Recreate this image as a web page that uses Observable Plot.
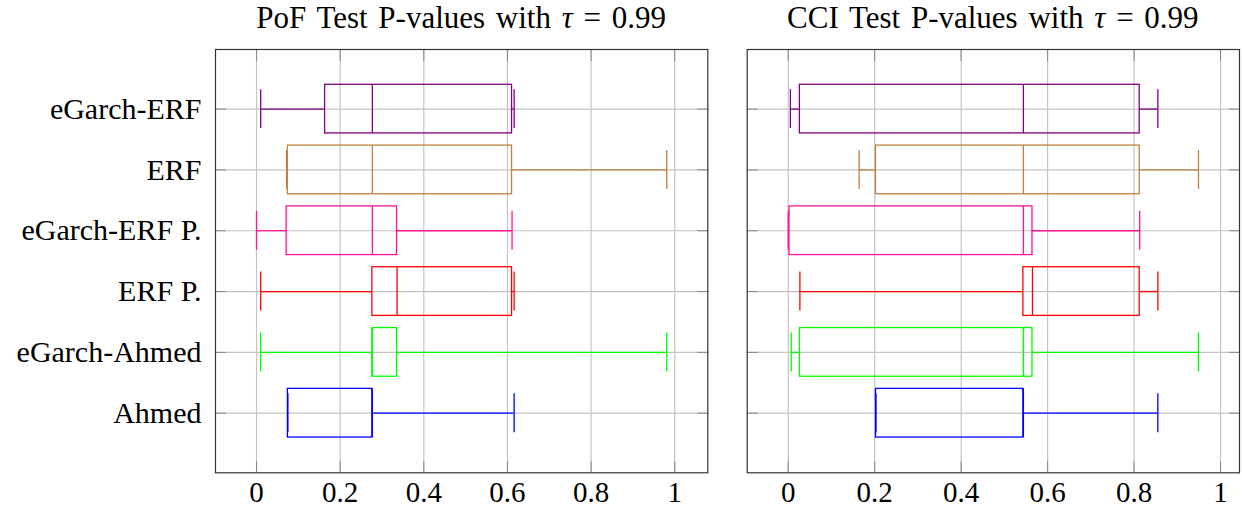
<!DOCTYPE html>
<html>
<head>
<meta charset="utf-8">
<script src="https://cdn.jsdelivr.net/npm/d3@7"></script>
<script src="https://cdn.jsdelivr.net/npm/@observablehq/plot@0.6"></script>
<style>
  html, body { margin: 0; padding: 0; background: #fff; }
  #wrap { position: relative; width: 1242px; height: 512px; overflow: hidden; font-family: "Liberation Serif", serif; }
  .panel { position: absolute; top: 0; }
  .panel svg text { font-family: "Liberation Serif", serif; }
  .title { position: absolute; top: 2px; font-size: 31px; line-height: 1; word-spacing: 3px; white-space: nowrap; transform: translateX(-50%); color: #000; }
  .title i { font-style: italic; }
</style>
</head>
<body>
<div id="wrap"></div>
<script>
// Categories, bottom (row 1) to top (row 6)
const categories = ["Ahmed", "eGarch-Ahmed", "ERF P.", "eGarch-ERF P.", "ERF", "eGarch-ERF"];
const seriesColors = ["#0000ff", "#00ff00", "#ff0000", "#ff1493", "#bf8040", "#800080"];
const xTicks = [0, 0.2, 0.4, 0.6, 0.8, 1];

// PoF test p-values (box statistics)
const pofLower  = [0.075, 0.010, 0.010, 0.000, 0.072, 0.010];
const pofQ1     = [0.075, 0.277, 0.277, 0.072, 0.075, 0.164];
const pofMedian = [0.277, 0.277, 0.336, 0.277, 0.277, 0.277];
const pofQ3     = [0.277, 0.336, 0.611, 0.336, 0.611, 0.611];
const pofUpper  = [0.616, 0.981, 0.616, 0.611, 0.981, 0.616];

// CCI test p-values (box statistics)
const cciLower  = [0.203, 0.007, 0.027, 0.000, 0.164, 0.005];
const cciQ1     = [0.203, 0.027, 0.544, 0.003, 0.203, 0.027];
const cciMedian = [0.544, 0.544, 0.565, 0.544, 0.544, 0.544];
const cciQ3     = [0.544, 0.565, 0.813, 0.565, 0.813, 0.813];
const cciUpper  = [0.855, 0.949, 0.855, 0.813, 0.949, 0.855];

const titles = ["PoF Test P-values with ", "CCI Test P-values with "];
const tauText = "τ";
const tauValue = " = 0.99";

function rowsOf(lw, q1, med, q3, uw) {
  return categories.map((c, i) => ({cat: c, row: i + 1, color: seriesColors[i], lw: lw[i], q1: q1[i], med: med[i], q3: q3[i], uw: uw[i]}));
}

function panel(data, opts) {
  const all = data.flatMap(d => [d.lw, d.uw]);
  const [lo, hi] = d3.extent(all);
  const pad = 0.1 * (hi - lo);
  const rows = data.map(d => d.row);
  const boxHalf = 0.4, capHalf = 0.32;
  const sw = 1.3;
  return Plot.plot({
    width: opts.width,
    height: 512,
    marginLeft: opts.marginLeft,
    marginRight: opts.marginRight,
    marginTop: 49,
    marginBottom: 39.7,
    style: {fontFamily: "'Liberation Serif', serif", fontSize: "29px", color: "#000", background: "transparent"},
    x: {domain: [lo - pad, hi + pad], label: null},
    y: {domain: [0.02, 6.98], label: null},
    marks: [
      Plot.gridX(xTicks, {stroke: "#c4c4c4", strokeOpacity: 1, strokeWidth: 1.2}),
      Plot.gridY(rows, {stroke: "#c4c4c4", strokeOpacity: 1, strokeWidth: 1.2}),
      Plot.axisX(xTicks, {anchor: "bottom", tickSize: -11, tickPadding: 20, stroke: "#888", fill: "#000", fontSize: 29, label: null, tickFormat: d => String(d)}),
      Plot.axisX(xTicks, {anchor: "top", tickSize: -11, stroke: "#888", fill: "none", label: null}),
      Plot.axisY(rows, {anchor: "left", tickSize: -11, tickPadding: 25, stroke: "#888", fill: opts.showLabels ? "#000" : "none", fontSize: 30, label: null, tickFormat: r => categories[r - 1]}),
      Plot.axisY(rows, {anchor: "right", tickSize: -11, stroke: "#888", fill: "none", label: null}),
      Plot.ruleY(data, {y: "row", x1: "lw", x2: "q1", stroke: "color", strokeWidth: sw}),
      Plot.ruleY(data, {y: "row", x1: "q3", x2: "uw", stroke: "color", strokeWidth: sw}),
      Plot.ruleX(data, {x: "lw", y1: d => d.row - capHalf, y2: d => d.row + capHalf, stroke: "color", strokeWidth: sw}),
      Plot.ruleX(data, {x: "uw", y1: d => d.row - capHalf, y2: d => d.row + capHalf, stroke: "color", strokeWidth: sw}),
      Plot.rect(data, {x1: "q1", x2: "q3", y1: d => d.row - boxHalf, y2: d => d.row + boxHalf, fill: "none", stroke: "color", strokeWidth: sw}),
      Plot.ruleX(data, {x: "med", y1: d => d.row - boxHalf, y2: d => d.row + boxHalf, stroke: "color", strokeWidth: sw}),
      Plot.frame({stroke: "#333", strokeWidth: 1.2})
    ]
  });
}

const wrap = document.getElementById("wrap");
const specs = [
  {data: rowsOf(pofLower, pofQ1, pofMedian, pofQ3, pofUpper), left: 0, width: 720, marginLeft: 215, marginRight: 12.7, showLabels: true},
  {data: rowsOf(cciLower, cciQ1, cciMedian, cciQ3, cciUpper), left: 720, width: 522, marginLeft: 26.7, marginRight: 3, showLabels: false}
];
specs.forEach((s, k) => {
  const div = document.createElement("div");
  div.className = "panel";
  div.style.left = s.left + "px";
  div.appendChild(panel(s.data, s));
  wrap.appendChild(div);
  const t = document.createElement("div");
  t.className = "title";
  const cx = s.left + s.marginLeft + (s.width - s.marginLeft - s.marginRight) / 2;
  t.style.left = cx + "px";
  t.appendChild(document.createTextNode(titles[k]));
  const it = document.createElement("i");
  it.textContent = tauText;
  t.appendChild(it);
  t.appendChild(document.createTextNode(tauValue));
  wrap.appendChild(t);
});
</script>
</body>
</html>
